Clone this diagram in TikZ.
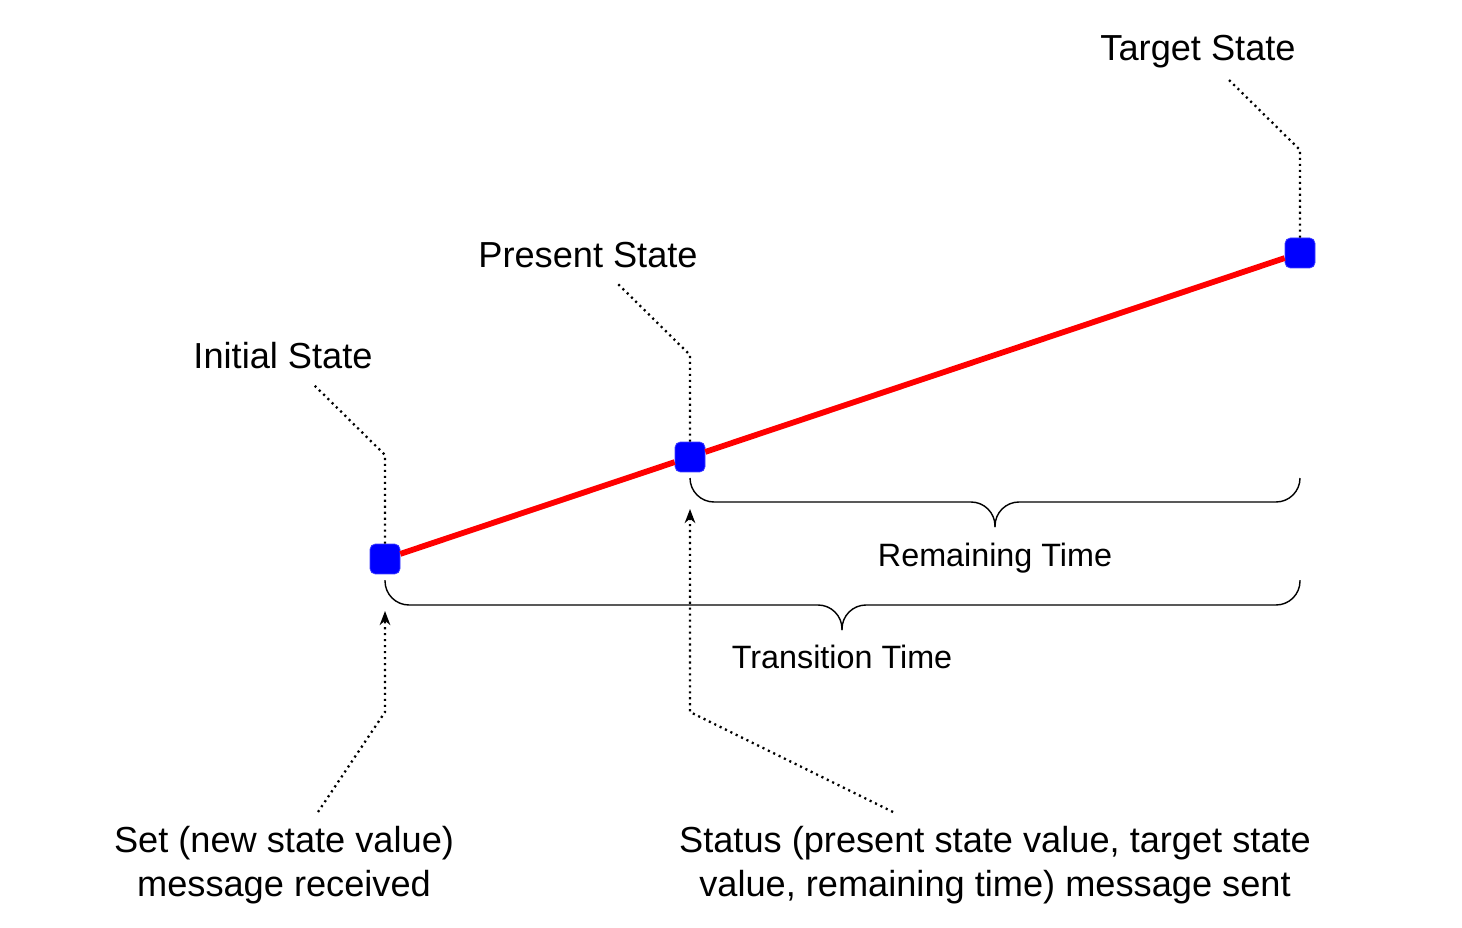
\documentclass[tikz,border=0pt]{standalone}
\usepackage{fontspec}
\setmainfont{Liberation Sans}
\usetikzlibrary{arrows.meta}
\begin{document}
\begin{tikzpicture}[x=0.02cm, y=-0.02cm,
    st/.style = {draw=blue!75!white, fill=blue, rounded corners=3pt, minimum size=0.6cm, inner sep=0pt},
    lbl/.style = {font=\fontsize{20.6}{25.3}\selectfont, anchor=base},
    tlbl/.style = {font=\fontsize{18.4}{22}\selectfont, anchor=base},
    lead/.style = {line width=1.3pt, dash pattern=on 1.2pt off 2.2pt},
    brc/.style = {line width=0.8pt, rounded corners=0.48cm}]
	\useasboundingbox (0,0) rectangle (1462,928);
	% states on the line
	\node[st] at (385,559) (init) {};
	\node[st] at (690,457) (pres) {};
	\node[st] at (1300,253) (tgt) {};
	\draw[red, line width=3.3pt] (init) -- (pres) -- (tgt);
	% labels above
	\node[lbl] at (283,369) (initlbl) {Initial State};
	\node[lbl] at (588,268) (preslbl) {Present State};
	\node[lbl] at (1198,61) (tgtlbl) {Target State};
	\coordinate (initc) at (385,455);
	\coordinate (inite) at (313,384);
	\coordinate (presc) at (690,355);
	\coordinate (prese) at (618,284);
	\coordinate (tgtc) at (1300,150);
	\coordinate (tgte) at (1228,79);
	\draw[lead] (init.north) -- (initc) -- (inite);
	\draw[lead] (pres.north) -- (presc) -- (prese);
	\draw[lead] (tgt.north) -- (tgtc) -- (tgte);
	% braces
	\coordinate (reml) at (690,478);
	\coordinate (remr) at (1300,478);
	\coordinate (remt) at (995,527);
	\draw[brc] (reml) |- (995,502) -- (remt);
	\draw[brc] (remr) |- (995,502) -- (remt);
	\node[tlbl] at (995,566) (remlbl) {Remaining Time};
	\coordinate (trnl) at (385,580);
	\coordinate (trnr) at (1300,580);
	\coordinate (trnt) at (842,630);
	\draw[brc] (trnl) |- (842,605) -- (trnt);
	\draw[brc] (trnr) |- (842,605) -- (trnt);
	\node[tlbl] at (842,668) (trnlbl) {Transition Time};
	% messages below
	\node[lbl, anchor=center, align=center] at (284,865) (setlbl) {Set (new state value)\\message received};
	\node[lbl, anchor=center, align=center] at (995,865) (statlbl) {Status (present state value, target state\\value, remaining time) message sent};
	\coordinate (sete) at (318,812);
	\coordinate (setc) at (385,712);
	\coordinate (sett) at (385,611);
	\coordinate (state) at (893,812);
	\coordinate (statc) at (690,712);
	\coordinate (statt) at (690,509);
	\draw[lead, -{Stealth[length=8pt, width=6pt, inset=2.5pt]}] (sete) -- (setc) -- (sett);
	\draw[lead, -{Stealth[length=8pt, width=6pt, inset=2.5pt]}] (state) -- (statc) -- (statt);
\end{tikzpicture}
\end{document}
